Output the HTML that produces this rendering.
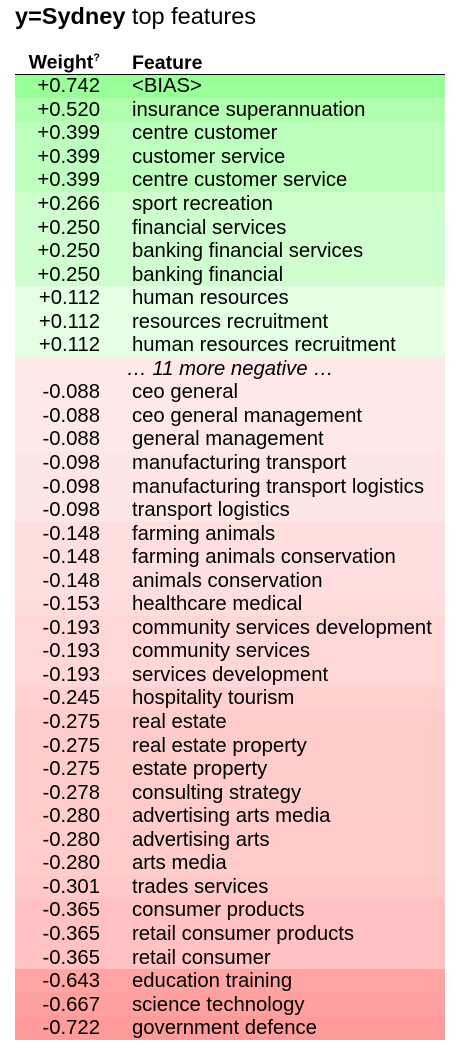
<!DOCTYPE html>
<html><head><meta charset="utf-8"><style>
body{margin:0;width:462px;height:1054px;background:#fff;font-family:"Liberation Sans",Arial,sans-serif;color:#000;overflow:hidden}
#title{position:absolute;left:15px;top:3px;font-size:23.5px}
table{position:absolute;left:15px;top:48px;width:430px;border-collapse:collapse;font-size:20.3px}
th{font-weight:bold;text-align:left;height:24px;padding:0;border-bottom:1px solid #000;vertical-align:bottom;line-height:21px;font-size:19.5px}
td{height:23.56px;padding:0;line-height:20px;white-space:nowrap}
td.w{text-align:right;width:85px;padding-right:32px}
th.w{text-align:right;padding-right:32px}
sup{font-size:11px}
</style></head><body>
<div id="title"><b>y=Sydney</b> top features</div>
<table>
<thead><tr><th class="w">Weight<sup>?</sup></th><th>Feature</th></tr></thead>
<tbody id="tb"></tbody></table>
<script>
const posWeights=[0.742,0.520,0.399,0.399,0.399,0.266,0.250,0.250,0.250,0.112,0.112,0.112];
const posFeatures=["<BIAS>","insurance superannuation","centre customer","customer service","centre customer service","sport recreation","financial services","banking financial services","banking financial","human resources","resources recruitment","human resources recruitment"];
const negWeights=[-0.088,-0.088,-0.088,-0.098,-0.098,-0.098,-0.148,-0.148,-0.148,-0.153,-0.193,-0.193,-0.193,-0.245,-0.275,-0.275,-0.275,-0.278,-0.280,-0.280,-0.280,-0.301,-0.365,-0.365,-0.365,-0.643,-0.667,-0.722];
const negFeatures=["ceo general","ceo general management","general management","manufacturing transport","manufacturing transport logistics","transport logistics","farming animals","farming animals conservation","animals conservation","healthcare medical","community services development","community services","services development","hospitality tourism","real estate","real estate property","estate property","consulting strategy","advertising arts media","advertising arts","arts media","trades services","consumer products","retail consumer products","retail consumer","education training","science technology","government defence"];
const moreNegative=11;
const tb=document.getElementById('tb');
const maxW=Math.max(...posWeights.map(Math.abs),...negWeights.map(Math.abs));
function color(w){const r=Math.pow(Math.abs(w)/maxW,0.7);const l=100-20*r;return `hsl(${w>0?120:0},100%,${l}%)`;}
function addRow(w,f){
 const tr=document.createElement('tr');
 
 
 tr.style.background=color(w);
 const a=document.createElement('td');a.className='w';
 
 
 a.textContent=(w>0?'+':'')+w.toFixed(3);
 const b=document.createElement('td');
 
 
 b.textContent=f;
 tr.appendChild(a);tr.appendChild(b);tb.appendChild(tr);
}
posWeights.forEach((w,i)=>addRow(w,posFeatures[i]));
const mr=document.createElement('tr');


mr.style.background=color(negWeights[0]);
const mc=document.createElement('td');mc.colSpan=2;mc.style.textAlign='center';mc.style.fontStyle='italic';


mc.textContent='… '+moreNegative+' more negative …';
mr.appendChild(mc);tb.appendChild(mr);
negWeights.forEach((w,i)=>addRow(w,negFeatures[i]));
</script>
</body></html>
